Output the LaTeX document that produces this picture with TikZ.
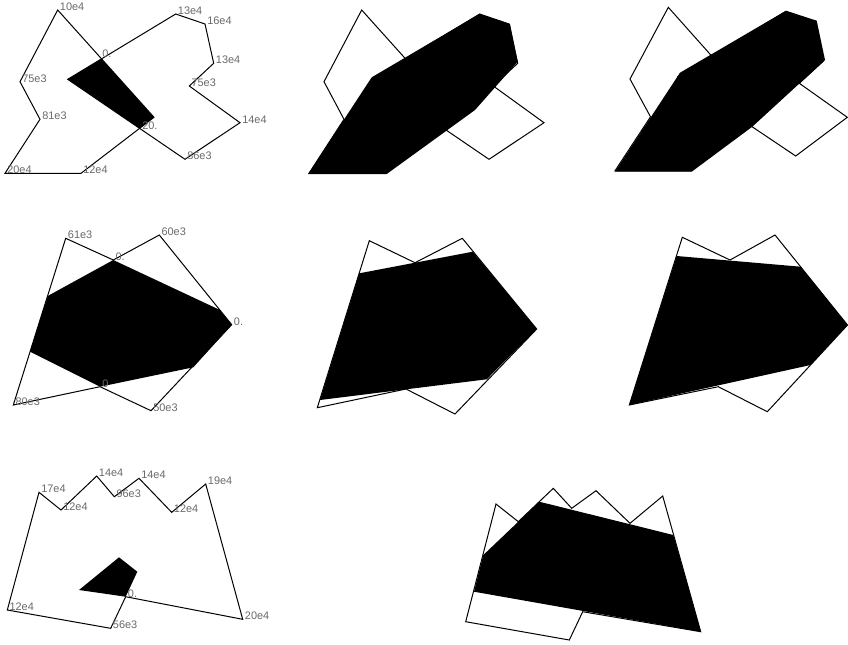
\documentclass[tikz,border=0pt]{standalone}
\usepackage{fontspec}
\setmainfont{Liberation Sans}
\usepackage{tikz}
\usepackage{tkz-euclide}
\definecolor{labelgray}{RGB}{105,105,105}
\tikzset{
  polyline/.style={draw=black,line width=0.75pt,line join=miter},
  blackfill/.style={fill=black,draw=none},
  vlab/.style={anchor=base west,inner sep=0pt,xshift=1.5pt,yshift=-0.5pt,
    text=labelgray,font=\fontsize{8.2}{9}\selectfont}
}
\newcommand{\vlabel}[3]{\node[vlab] (#1) at (#2) {#3};}

\begin{document}
\begin{tikzpicture}[x=0.75pt,y=-0.75pt]
  \useasboundingbox (0,0) rectangle (848,644);

  % row 1, left: two polygons, common part in black
  \tkzDefPoint(57.7,10){A1}
  \tkzDefPoint(154,117.3){A2}
  \tkzDefPoint(81,173.3){A3}
  \tkzDefPoint(5,173.3){A4}
  \tkzDefPoint(40,119.3){A5}
  \tkzDefPoint(20,81.7){A6}
  \tkzDefPoint(67.7,79.3){B1}
  \tkzDefPoint(175.7,14){B2}
  \tkzDefPoint(205,24){B3}
  \tkzDefPoint(213.7,63.3){B4}
  \tkzDefPoint(189.3,86){B5}
  \tkzDefPoint(240,122.7){B6}
  \tkzDefPoint(185,159.3){B7}
  \tkzDefPoint(100,57.3){X1}
  \tkzDefPoint(140,129.3){X2}

  \begin{scope}
    \clip (A1)--(A2)--(A3)--(A4)--(A5)--(A6)--cycle;
    \fill[blackfill] (B1)--(B2)--(B3)--(B4)--(B5)--(B6)--(B7)--cycle;
  \end{scope}
  \draw[polyline] (A1)--(A2)--(A3)--(A4)--(A5)--(A6)--cycle;
  \draw[polyline] (B1)--(B2)--(B3)--(B4)--(B5)--(B6)--(B7)--cycle;

  \vlabel{la1}{A1}{10e4}
  \vlabel{la6}{A6}{75e3}
  \vlabel{la5}{A5}{81e3}
  \vlabel{la4}{A4}{20e4}
  \vlabel{la3}{A3}{12e4}
  \vlabel{lb2}{B2}{13e4}
  \vlabel{lb3}{B3}{16e4}
  \vlabel{lb4}{B4}{13e4}
  \vlabel{lb5}{B5}{75e3}
  \vlabel{lb6}{B6}{14e4}
  \vlabel{lb7}{B7}{86e3}
  \vlabel{lx1}{X1}{0.}
  \vlabel{lx2}{X2}{20.}

  % row 1, middle
  \tkzDefPoint(361.7,10){C1}
  \tkzDefPoint(458,117.3){C2}
  \tkzDefPoint(385,173.3){C3}
  \tkzDefPoint(309,173.3){C4}
  \tkzDefPoint(344,119.3){C5}
  \tkzDefPoint(324,81.7){C6}
  \tkzDefPoint(371.7,79.3){D1}
  \tkzDefPoint(479.7,14){D2}
  \tkzDefPoint(509,24){D3}
  \tkzDefPoint(517.7,63.3){D4}
  \tkzDefPoint(493.3,86){D5}
  \tkzDefPoint(544,122.7){D6}
  \tkzDefPoint(489,159.3){D7}
  \tkzDefPoint(308.3,174){E1}
  \tkzDefPoint(371.7,77.3){E2}
  \tkzDefPoint(479.3,14){E3}
  \tkzDefPoint(510,24){E4}
  \tkzDefPoint(517.7,61.7){E5}
  \tkzDefPoint(475,110){E6}
  \tkzDefPoint(386.7,174){E7}

  \draw[polyline] (C1)--(C2)--(C3)--(C4)--(C5)--(C6)--cycle;
  \draw[polyline] (D1)--(D2)--(D3)--(D4)--(D5)--(D6)--(D7)--cycle;
  \fill[blackfill] (E1)--(E2)--(E3)--(E4)--(E5)--(E6)--(E7)--cycle;

  % row 1, right
  \tkzDefPoint(668.3,7.3){F1}
  \tkzDefPoint(764,114.8){F2}
  \tkzDefPoint(691,170.8){F3}
  \tkzDefPoint(615,170.8){F4}
  \tkzDefPoint(650.5,116.8){F5}
  \tkzDefPoint(630,79){F6}
  \tkzDefPoint(677.7,76.8){G1}
  \tkzDefPoint(785.7,11.5){G2}
  \tkzDefPoint(815,21.5){G3}
  \tkzDefPoint(823.7,60.8){G4}
  \tkzDefPoint(799.3,83.3){G5}
  \tkzDefPoint(847.3,117.3){G6}
  \tkzDefPoint(795.7,156){G7}
  \tkzDefPoint(615,171.7){H1}
  \tkzDefPoint(680,72.7){H2}
  \tkzDefPoint(786,10.7){H3}
  \tkzDefPoint(816.7,20.7){H4}
  \tkzDefPoint(825,60){H5}
  \tkzDefPoint(752.3,126.7){H6}
  \tkzDefPoint(691.7,171.7){H7}

  \draw[polyline] (F1)--(F2)--(F3)--(F4)--(F5)--(F6)--cycle;
  \draw[polyline] (G1)--(G2)--(G3)--(G4)--(G5)--(G6)--(G7)--cycle;
  \fill[blackfill] (H1)--(H2)--(H3)--(H4)--(H5)--(H6)--(H7)--cycle;

  % row 2, left
  \tkzDefPoint(65.7,238.3){K1}
  \tkzDefPoint(113.3,260){K2}
  \tkzDefPoint(159.3,235){K3}
  \tkzDefPoint(231.7,324.7){K4}
  \tkzDefPoint(151,410.7){K5}
  \tkzDefPoint(100,386.7){K6}
  \tkzDefPoint(13.3,405){K7}
  \tkzDefPoint(47.7,296){L1}
  \tkzDefPoint(30,351.7){L2}
  \tkzDefPoint(193.3,367.3){L3}
  \tkzDefPoint(220,310){L4}

  \fill[blackfill] (K2)--(L1)--(L2)--(K6)--(L3)--(K4)--(L4)--cycle;
  \draw[polyline] (K1)--(K2)--(K3)--(K4)--(K5)--(K6)--(K7)--cycle;

  \vlabel{lk1}{K1}{61e3}
  \vlabel{lk2}{K2}{0.}
  \vlabel{lk3}{K3}{60e3}
  \vlabel{lk4}{K4}{0.}
  \vlabel{lk5}{K5}{50e3}
  \vlabel{lk6}{K6}{0}
  \vlabel{lk7}{K7}{80e3}

  % row 2, middle
  \tkzDefPoint(369.3,240.7){M1}
  \tkzDefPoint(415,262.7){M2}
  \tkzDefPoint(462.3,238.3){M3}
  \tkzDefPoint(536.7,329){M4}
  \tkzDefPoint(455,414){M5}
  \tkzDefPoint(406,389){M6}
  \tkzDefPoint(317.3,407.7){M7}
  \tkzDefPoint(359.3,273.3){N1}
  \tkzDefPoint(472.7,251.7){N2}
  \tkzDefPoint(486.7,379.3){N3}
  \tkzDefPoint(320,400){N4}

  \draw[polyline] (M1)--(M2)--(M3)--(M4)--(M5)--(M6)--(M7)--cycle;
  \fill[blackfill] (N1)--(N2)--(M4)--(N3)--(N4)--cycle;

  % row 2, right
  \tkzDefPoint(682.3,237.3){Q1}
  \tkzDefPoint(730,260){Q2}
  \tkzDefPoint(775,235){Q3}
  \tkzDefPoint(847.5,325){Q4}
  \tkzDefPoint(767.3,411.7){Q5}
  \tkzDefPoint(718.3,386.7){Q6}
  \tkzDefPoint(629.3,405){Q7}
  \tkzDefPoint(676.7,256){R1}
  \tkzDefPoint(800.7,266.7){R2}
  \tkzDefPoint(810.5,365){R3}

  \draw[polyline] (Q1)--(Q2)--(Q3)--(Q4)--(Q5)--(Q6)--(Q7)--cycle;
  \fill[blackfill] (R1)--(R2)--(Q4)--(R3)--(Q7)--cycle;

  % row 3, left
  \tkzDefPoint(7.3,610){S1}
  \tkzDefPoint(39,492.3){S2}
  \tkzDefPoint(61,510){S3}
  \tkzDefPoint(96.7,476){S4}
  \tkzDefPoint(114.3,496.7){S5}
  \tkzDefPoint(139,478.3){S6}
  \tkzDefPoint(171.7,512.3){S7}
  \tkzDefPoint(205.7,484){S8}
  \tkzDefPoint(242.7,619.3){S9}
  \tkzDefPoint(125.7,596.7){S10}
  \tkzDefPoint(110.7,628.3){S11}
  \tkzDefPoint(79,590){T1}
  \tkzDefPoint(119,557.3){T2}
  \tkzDefPoint(137.3,571.7){T3}

  \draw[polyline] (S1)--(S2)--(S3)--(S4)--(S5)--(S6)--(S7)--(S8)--(S9)
    --(S10)--(S11)--cycle;
  \fill[blackfill] (T1)--(T2)--(T3)--(S10)--cycle;

  \vlabel{ls1}{S1}{12e4}
  \vlabel{ls2}{S2}{17e4}
  \vlabel{ls3}{S3}{12e4}
  \vlabel{ls4}{S4}{14e4}
  \vlabel{ls5}{S5}{96e3}
  \vlabel{ls6}{S6}{14e4}
  \vlabel{ls7}{S7}{12e4}
  \vlabel{ls8}{S8}{19e4}
  \vlabel{ls9}{S9}{20e4}
  \vlabel{ls10}{S10}{0.}
  \vlabel{ls11}{S11}{56e3}

  % row 3, right
  \tkzDefPoint(465.7,621.7){U1}
  \tkzDefPoint(496,504){U2}
  \tkzDefPoint(518.3,521.7){U3}
  \tkzDefPoint(553.3,488.3){U4}
  \tkzDefPoint(571.7,508.3){U5}
  \tkzDefPoint(596,490.7){U6}
  \tkzDefPoint(630,523.3){U7}
  \tkzDefPoint(662.7,496){U8}
  \tkzDefPoint(700.7,631.7){U9}
  \tkzDefPoint(582.7,611.7){U10}
  \tkzDefPoint(569.3,640){U11}
  \tkzDefPoint(483.3,555){V1}
  \tkzDefPoint(539.3,501.7){V2}
  \tkzDefPoint(673.3,535){V3}
  \tkzDefPoint(474,591.7){V4}

  \draw[polyline] (U1)--(U2)--(U3)--(U4)--(U5)--(U6)--(U7)--(U8)--(U9)
    --(U10)--(U11)--cycle;
  \fill[blackfill] (V1)--(V2)--(V3)--(U9)--(V4)--cycle;

\end{tikzpicture}
\end{document}
